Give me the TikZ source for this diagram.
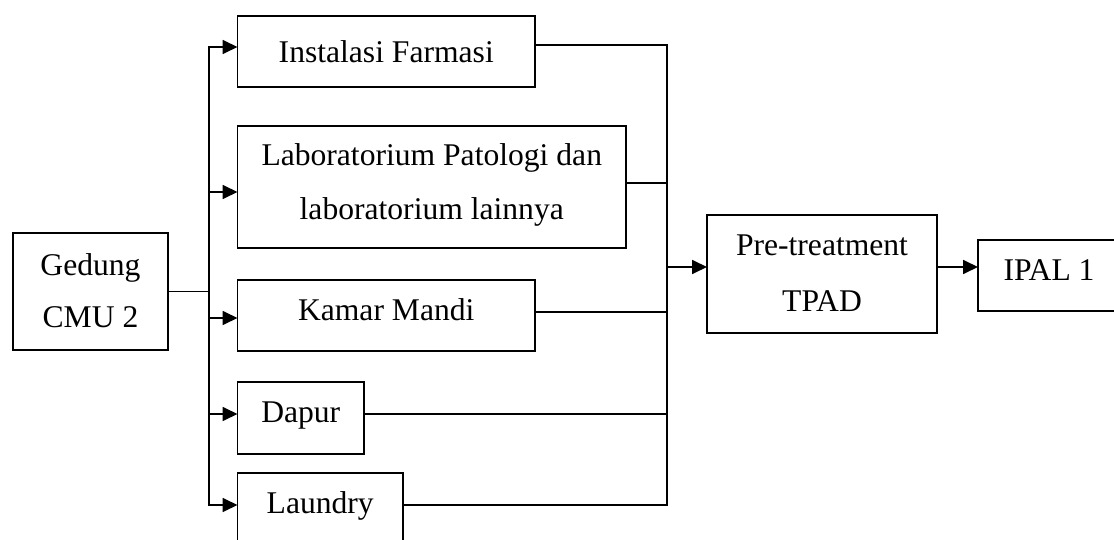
\documentclass[tikz,border=0pt]{standalone}
\usepackage{fontspec}
\setmainfont{Liberation Serif}
\usetikzlibrary{arrows.meta}

\begin{document}
\begin{tikzpicture}[x=0.5pt, y=-0.5pt,
  box/.style={draw, line width=0.9pt, rectangle, inner sep=0pt, outer sep=0pt},
  lbl/.style={inner sep=0pt, anchor=base, font=\fontsize{15.8}{19}\selectfont},
  pipe/.style={draw, line width=0.9pt},
  flow/.style={pipe, -{Triangle[length=7.5pt, width=7pt]}}]

  \useasboundingbox (0,0) rectangle (1114,540);

  % boxes
  \node[box, minimum width=77.5pt,  minimum height=58.5pt] (gedung)  at (90.5,291.5)  {};
  \node[box, minimum width=148.75pt, minimum height=35.5pt] (inst)    at (386.25,51.5) {};
  \node[box, minimum width=194.25pt, minimum height=61pt]   (lab)     at (431.75,187)  {};
  \node[box, minimum width=148.75pt, minimum height=35.5pt] (kamar)   at (386.25,315.5){};
  \node[box, minimum width=63.25pt,  minimum height=36pt]   (dapur)   at (300.75,418)  {};
  \node[box, minimum width=82.75pt,  minimum height=37.5pt] (laundry) at (320.25,510.5){};
  \node[box, minimum width=115pt,    minimum height=59pt]   (pre)     at (822,274)     {};
  \node[box, minimum width=71pt,     minimum height=35.5pt] (ipal)    at (1049,275.5)  {};

  % labels
  \node[lbl] (tGed)  at (90.5,275)   {Gedung};
  \node[lbl] (tCmu)  at (90.5,327)   {CMU 2};
  \node[lbl] (tInst) at (386.25,63)  {Instalasi Farmasi};
  \node[lbl] (tLab1) at (431.75,165) {Laboratorium Patologi dan};
  \node[lbl] (tLab2) at (431.75,220) {laboratorium lainnya};
  \node[lbl] (tKam)  at (386.25,320) {Kamar Mandi};
  \node[lbl] (tDap)  at (300.75,422) {Dapur};
  \node[lbl] (tLau)  at (320.25,513) {Laundry};
  \node[lbl] (tPre)  at (822,255)    {Pre-treatment};
  \node[lbl] (tTpad) at (822,311)    {TPAD};
  \node[lbl] (tIpal) at (1049,280)   {IPAL 1};

  % distribution from the building
  \coordinate (busL) at (209,291.5);
  \draw[pipe] (gedung.east) -- (busL);
  \draw[flow] (busL) |- (inst.west |- 0,47);
  \draw[flow] (busL) |- (lab.west |- 0,192);
  \draw[flow] (busL) |- (kamar.west |- 0,318);
  \draw[flow] (busL) |- (dapur.west |- 0,414);
  \draw[flow] (busL) |- (laundry.west |- 0,505);

  % collection towards pre-treatment
  \coordinate (busR) at (667,267);
  \draw[pipe] (inst.east |- 0,45)    -| (busR);
  \draw[pipe] (lab.east |- 0,183)    -| (busR);
  \draw[pipe] (kamar.east |- 0,312)  -| (busR);
  \draw[pipe] (dapur.east |- 0,414)  -| (busR);
  \draw[pipe] (laundry.east |- 0,505) -| (busR);
  \draw[flow] (busR) -- (pre.west |- busR);
  \draw[flow] (pre.east |- busR) -- (ipal.west |- busR);
\end{tikzpicture}
\end{document}
